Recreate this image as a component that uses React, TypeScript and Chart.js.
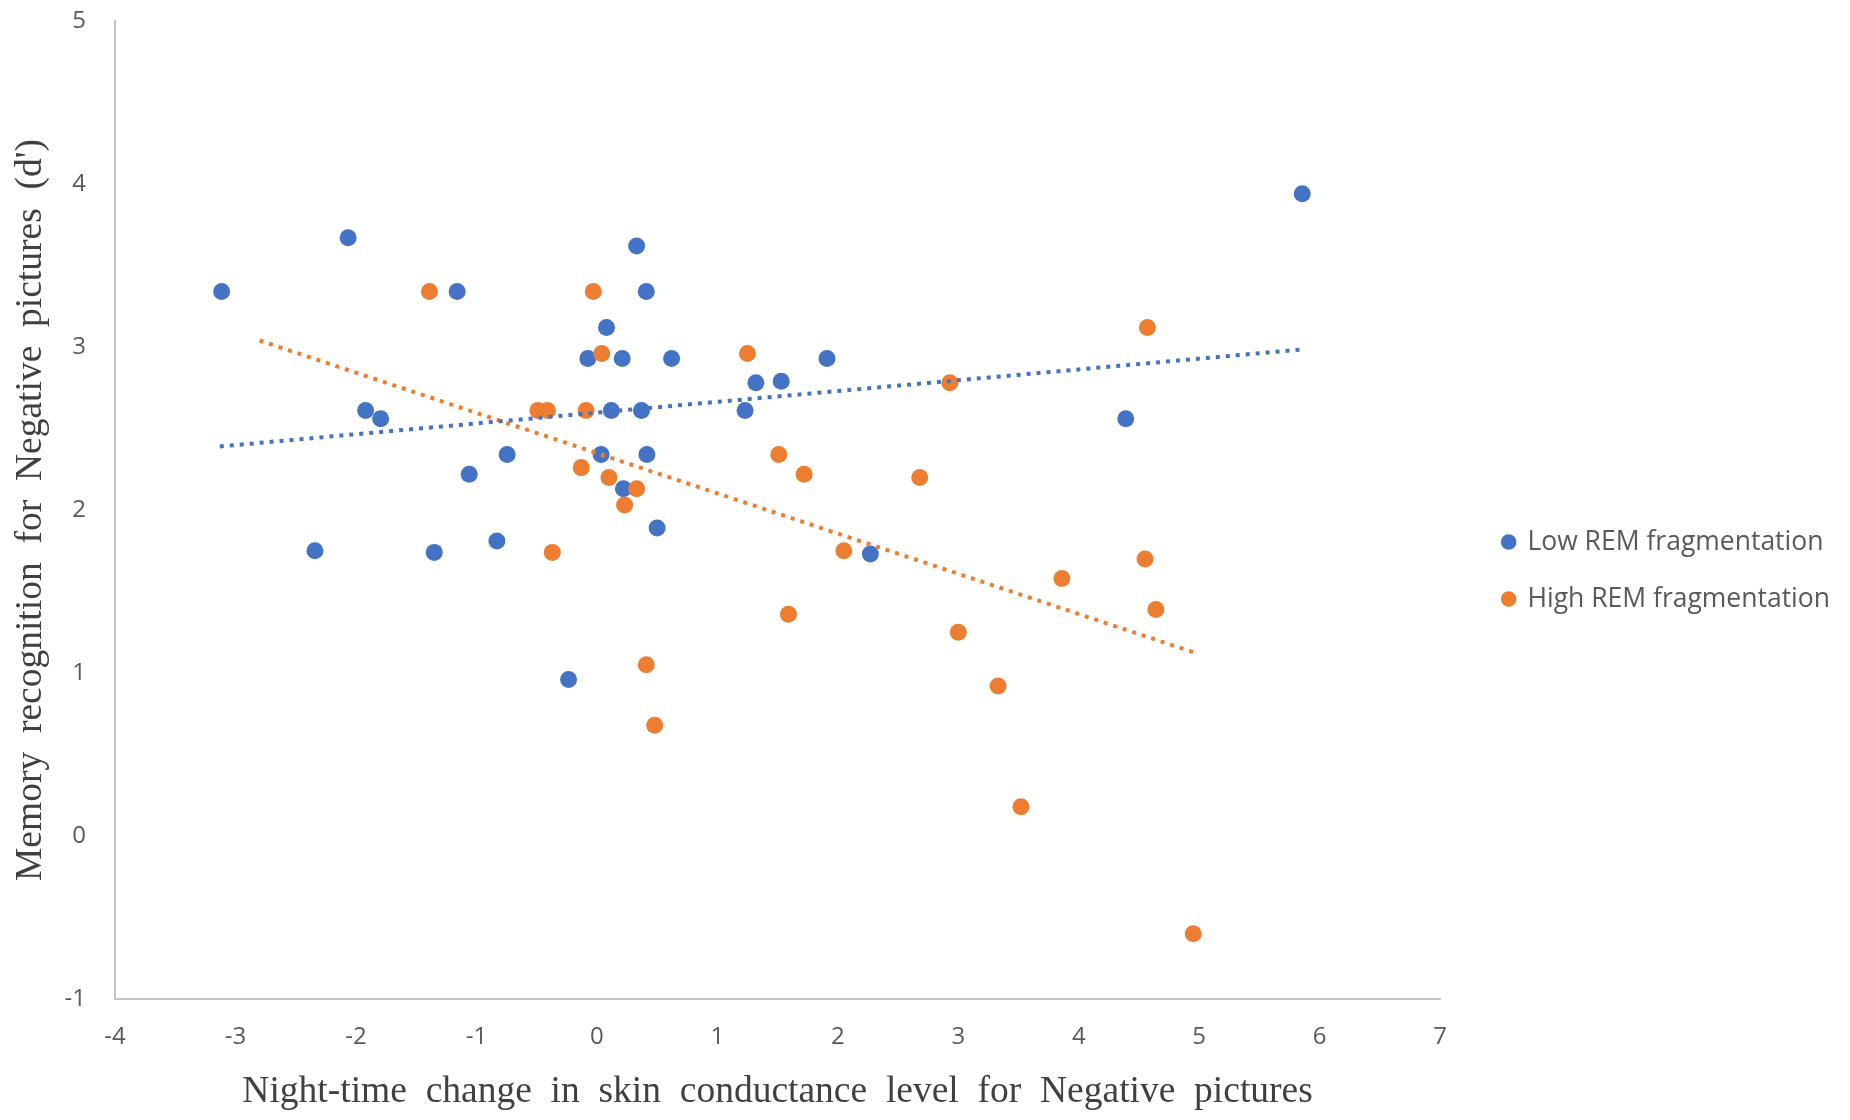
import { useEffect, useRef } from 'react'
import { Chart, registerables, type ChartConfiguration } from 'chart.js'

Chart.register(...registerables)

// Memory recognition vs night-time SCL change, split by REM fragmentation

const lowX = [-3.115, -2.065, -1.16, -1.92, -1.795, -2.34, -1.35, -1.06, -0.745, -0.83, -0.235, -0.075, 0.08, 0.33, 0.41, 0.21, 0.12, 0.37, 0.035, 0.415, 0.22, 0.5, 0.62, 1.32, 1.53, 1.23, 1.91, 2.27, 4.39, 5.855]
const lowY = [3.34, 3.67, 3.34, 2.61, 2.56, 1.75, 1.74, 2.22, 2.34, 1.81, 0.96, 2.93, 3.12, 3.62, 3.34, 2.93, 2.61, 2.61, 2.34, 2.34, 2.13, 1.89, 2.93, 2.78, 2.79, 2.61, 2.93, 1.73, 2.56, 3.94]

const highX = [-1.39, -0.03, 0.04, -0.49, -0.41, -0.09, -0.13, 0.1, 0.33, 0.23, -0.37, 1.25, 0.41, 0.48, 1.51, 1.72, 1.59, 2.05, 2.68, 2.93, 3.0, 3.33, 3.52, 3.86, 4.57, 4.55, 4.64, 4.95]
const highY = [3.34, 3.34, 2.96, 2.61, 2.61, 2.61, 2.26, 2.2, 2.13, 2.03, 1.74, 2.96, 1.05, 0.68, 2.34, 2.22, 1.36, 1.75, 2.2, 2.78, 1.25, 0.92, 0.18, 1.58, 3.12, 1.7, 1.39, -0.6]

// linear trendline end points as drawn in the source figure
const lowTrendX = [-3.13, 5.85]
const lowTrendY = [2.39, 2.985]
const highTrendX = [-2.8, 4.98]
const highTrendY = [3.04, 1.12]

const xRange = [-4, 7]
const yRange = [-1, 5]

const seriesNames = ['Low REM fragmentation', 'High REM fragmentation']
const xTitle = 'Night-time  change  in  skin  conductance  level  for  Negative  pictures'
const yTitle = "Memory  recognition  for  Negative  pictures  (d')"

const BLUE = '#4472c4'
const ORANGE = '#ed7d31'

const zip = (xs: number[], ys: number[]) => xs.map((x, i) => ({ x, y: ys[i] }))

export default function App() {
  const canvasRef = useRef<HTMLCanvasElement>(null)
  const chartRef = useRef<Chart | null>(null)

  useEffect(() => {
    document.body.style.margin = '0'
    if (!canvasRef.current) return
    if (chartRef.current) { chartRef.current.destroy(); chartRef.current = null }

    const tickFont = { family: 'Open Sans', size: 24 }
    const titleFont = { family: 'Liberation Serif', size: 37.5 }
    const trend = { showLine: true, borderWidth: 4, borderDash: [4, 6], pointRadius: 0, order: -1 }

    const config: ChartConfiguration<'scatter'> = {
      type: 'scatter',
      data: {
        datasets: [
          {
            label: seriesNames[0],
            data: zip(lowX, lowY),
            backgroundColor: BLUE,
            borderColor: BLUE,
            pointRadius: 8.5,
            pointBorderWidth: 0,
            order: 2,
          },
          {
            label: seriesNames[1],
            data: zip(highX, highY),
            backgroundColor: ORANGE,
            borderColor: ORANGE,
            pointRadius: 8.5,
            pointBorderWidth: 0,
            order: 1,
          },
          { label: 'trend-low', data: zip(lowTrendX, lowTrendY), borderColor: BLUE, ...trend },
          { label: 'trend-high', data: zip(highTrendX, highTrendY), borderColor: ORANGE, ...trend },
        ],
      },
      options: {
        responsive: true,
        maintainAspectRatio: false,
        animation: false,
        layout: { padding: { top: 21, left: 0, right: 10, bottom: 0 } },
        scales: {
          x: {
            type: 'linear',
            min: xRange[0],
            max: xRange[1],
            ticks: { stepSize: 1, color: '#595959', font: tickFont, padding: 0 },
            grid: { display: false, drawTicks: true, tickLength: 24 },
            border: { color: '#c4c4c4', width: 2 },
            title: { display: true, text: xTitle, color: '#404040', font: titleFont, padding: { top: 0, bottom: 5 } },
            afterFit: (s: any) => { s.height = 121 },
          },
          y: {
            type: 'linear',
            min: yRange[0],
            max: yRange[1],
            ticks: { stepSize: 1, color: '#595959', font: tickFont, padding: 0 },
            grid: { display: false, drawTicks: true, tickLength: 29 },
            border: { color: '#c4c4c4', width: 2 },
            title: { display: true, text: yTitle, color: '#404040', font: titleFont, padding: { top: 9, bottom: 0 } },
            afterFit: (s: any) => { s.width = 115 },
          },
          // empty strip between plot and legend
          gap: {
            type: 'linear',
            position: 'right',
            display: true,
            ticks: { display: false },
            grid: { display: false, drawTicks: false },
            border: { display: false },
            afterFit: (s: any) => { s.width = 32.5 },
          },
        },
        plugins: {
          legend: {
            position: 'right',
            maxWidth: 500,
            labels: {
              usePointStyle: true,
              pointStyle: 'circle',
              boxWidth: 11,
              boxHeight: 11,
              padding: 30.5,
              color: '#595959',
              font: { family: 'Open Sans', size: 26.5 },
              filter: (item) => seriesNames.includes(item.text),
              sort: (a, b) => (a.datasetIndex ?? 0) - (b.datasetIndex ?? 0),
            },
          },
          tooltip: { enabled: false },
        },
      },
    }
    chartRef.current = new Chart(canvasRef.current, config)
    return () => { chartRef.current?.destroy(); chartRef.current = null }
  }, [])

  return (
    <div style={{ position: 'relative', width: 1850, height: 1120, background: '#fff' }}>
      <canvas ref={canvasRef} />
    </div>
  )
}
